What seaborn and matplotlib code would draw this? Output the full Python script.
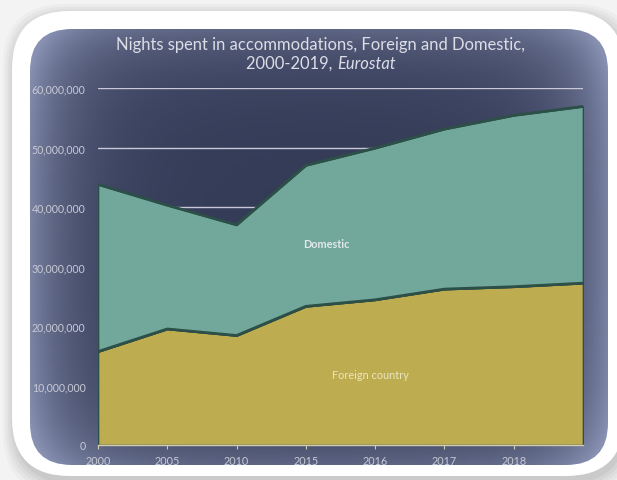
import numpy as np
import pandas as pd
import seaborn as sns
import matplotlib.pyplot as plt
from matplotlib.patches import FancyBboxPatch

# values
years = ["2000", "2005", "2010", "2015", "2016", "2017", "2018", "2019"]
foreign = [15.7, 19.5, 18.4, 23.3, 24.4, 26.2, 26.6, 27.2]      # millions of nights
domestic = [28.1, 20.8, 18.6, 23.7, 25.5, 26.9, 28.8, 29.7]
yticks = [0, 10e6, 20e6, 30e6, 40e6, 50e6, 60e6]

df = pd.DataFrame({"year": years, "foreign": np.array(foreign) * 1e6,
                   "domestic": np.array(domestic) * 1e6})
df["idx"] = range(len(df))
df["total"] = df["foreign"] + df["domestic"]

sns.set_style("white")
plt.rcParams["font.family"] = ["Lato", "DejaVu Sans"]

W, H = 617, 481
fig = plt.figure(figsize=(W / 100, H / 100), dpi=100, facecolor="#f3f3f3")

# background layer in pixel coordinates
bg = fig.add_axes([0, 0, 1, 1])
bg.set_xlim(0, W)
bg.set_ylim(H, 0)
bg.axis("off")

# soft shadow around the card
for i, a in enumerate([0.04, 0.05, 0.06, 0.07, 0.08]):
    g = 12 - i * 2.5
    bg.add_patch(FancyBboxPatch((12 - g + 3, 12 - g + 5), 610 + 2 * g, 466 + 2 * g,
                                boxstyle="round,pad=0,rounding_size=62",
                                fc="#606060", ec="none", alpha=a))
bg.add_patch(FancyBboxPatch((12, 12), 612, 465, boxstyle="round,pad=0,rounding_size=58",
                            fc="white", ec="none"))
panel = FancyBboxPatch((30, 30), 578, 436, boxstyle="round,pad=0,rounding_size=42",
                       fc="none", ec="none")
bg.add_patch(panel)

# navy panel, lighter towards its border
X, Y = np.meshgrid(np.arange(W), np.arange(H))
dx = np.clip(np.minimum(X - 30, 608 - X), 0, None)
dy = np.clip(np.minimum(Y - 30, 466 - Y), 0, None)
t = np.clip(np.exp(-dx / 45) + 0.6 * np.exp(-dy / 38), 0, 1.2) / 1.2
dark = np.array([0x34, 0x3b, 0x57]) / 255
light = np.array([0x88, 0x91, 0xb2]) / 255
img = dark + (light - dark) * t[..., None]
im = bg.imshow(img, extent=(0, W, H, 0), zorder=1)
im.set_clip_path(panel)

# main chart
ax = fig.add_axes([98 / W, 1 - 446 / H, (583 - 98) / W, (446 - 89) / H])
ax.set_facecolor("none")
ax.set_xlim(0, len(df) - 1)
ax.set_ylim(0, 60e6)

for yv in yticks[1:]:
    ax.axhline(yv, color="#c9c8d8", lw=1, zorder=1)

edge = "#2c4f47"
ax.fill_between(df["idx"], 0, df["foreign"], color="#bdad50", ec=edge, lw=1.2, zorder=2)
ax.fill_between(df["idx"], df["foreign"], df["total"], color="#72a79b", ec=edge, lw=1.2, zorder=2)
sns.lineplot(data=df, x="idx", y="foreign", color=edge, lw=2, ax=ax, zorder=3)
sns.lineplot(data=df, x="idx", y="total", color=edge, lw=2, ax=ax, zorder=3)

ax.text(3.29, 33.8e6, "Domestic", color="#e2e8ec", fontsize=7.8, fontweight="bold",
        ha="center", va="center", zorder=4)
ax.text(3.93, 11.9e6, "Foreign country", color="#ece4bd", fontsize=7.8,
        ha="center", va="center", zorder=4)

ax.set_xticks(range(len(years) - 1))
ax.set_xticklabels(years[:-1])
ax.set_yticks(yticks)
ax.set_yticklabels([f"{int(v):,}" for v in yticks])
ax.set_xlabel("")
ax.set_ylabel("")
for s in ["top", "right", "left"]:
    ax.spines[s].set_visible(False)
ax.spines["bottom"].set_color("#d4ccae")
ax.spines["bottom"].set_linewidth(1)
ax.spines["bottom"].set_zorder(5)
ax.tick_params(axis="x", colors="#d4ccae", length=3, width=0.8, pad=4,
               labelcolor="#c8cad6", labelsize=7.8, bottom=True)
ax.tick_params(axis="y", length=0, pad=9, labelcolor="#c8cad6", labelsize=7.6)

# title, second line has an italic source
tc = "#dcdde6"
cx = 0.52
fig.text(cx, 1 - 45 / H, "Nights spent in accommodations, Foreign and Domestic,",
         ha="center", va="center", color=tc, fontsize=11.9)
ta = fig.text(0, 1 - 64 / H, "2000-2019, ", ha="left", va="center", color=tc, fontsize=11.9)
tb = fig.text(0, 1 - 64 / H, "Eurostat", ha="left", va="center", color=tc, fontsize=11.9,
              style="italic")
r = fig.canvas.get_renderer()
wa = ta.get_window_extent(r).width
wb = tb.get_window_extent(r).width
x0 = cx * W - (wa + wb) / 2
ta.set_x(x0 / W)
tb.set_x((x0 + wa) / W)

fig.savefig("out.png", dpi=100, facecolor=fig.get_facecolor())
